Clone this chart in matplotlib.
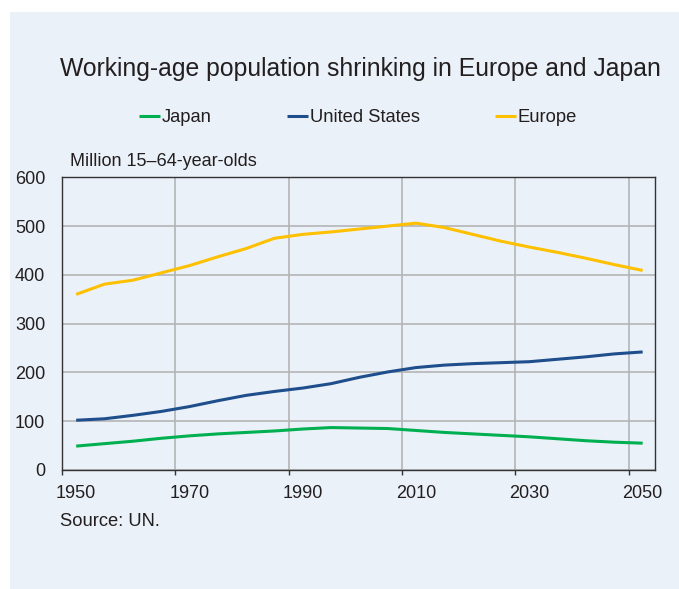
import matplotlib
matplotlib.use("Agg")
from matplotlib import pyplot as plt
from matplotlib.patches import Rectangle
from matplotlib.ticker import FixedLocator, NullFormatter

years = list(range(1950, 2051, 5))
japan = [49, 54, 59, 65, 70, 74, 77, 80, 84, 87, 86, 85, 81, 77, 74, 71, 68, 64, 60, 57, 55]
united_states = [102, 105, 112, 120, 130, 142, 153, 161, 168, 177, 190, 201, 210, 215, 218,
                 220, 222, 227, 232, 238, 242]
europe = [360, 381, 389, 404, 419, 437, 454, 475, 483, 488, 494, 500, 506, 497, 483, 469,
          457, 446, 434, 421, 409]
tick_years = [1950, 1970, 1990, 2010, 2030, 2050]
y_ticks = [0, 100, 200, 300, 400, 500, 600]

BG = "#EAF1F8"
TEXT = "#231F20"

plt.rcParams["font.family"] = ["Liberation Sans", "DejaVu Sans"]

W, H = 679, 589
fig = plt.figure(figsize=(W / 100, H / 100), dpi=100)
fig.patch.set_facecolor("white")
fig.patches.append(Rectangle((10 / W, 0), 1 - 10 / W, 1 - 12 / H, transform=fig.transFigure,
                             facecolor=BG, edgecolor="none", zorder=-10))

ax = fig.add_axes([62 / W, (H - 470) / H, (655 - 62) / W, (470 - 177.3) / H])
ax.set_facecolor(BG)

ax.plot(years, japan, color="#00B050", lw=2.2, label="Japan", solid_capstyle="butt")
ax.plot(years, united_states, color="#1F4E8C", lw=2.2, label="United States", solid_capstyle="butt")
ax.plot(years, europe, color="#FFC000", lw=2.2, label="Europe", solid_capstyle="butt")

# gridlines sit between label positions
ax.set_xlim(1947.5, 1947.5 + (655 - 62) / 5.665)
ax.set_ylim(0, 600)
ax.xaxis.set_major_locator(FixedLocator([y - 2.5 for y in tick_years]))
ax.xaxis.set_major_formatter(NullFormatter())
ax.set_xticks(tick_years, labels=[str(y) for y in tick_years], minor=True)
ax.tick_params(axis="x", which="major", length=3.6, width=1, color="#333333", direction="out")
ax.tick_params(axis="x", which="minor", length=0, pad=11, labelsize=13, labelcolor=TEXT)
ax.set_yticks(y_ticks)
ax.tick_params(axis="y", length=0, pad=12, labelsize=13, labelcolor=TEXT)

ax.grid(True, which="major", color="#B4B4B4", lw=1.2)
ax.set_axisbelow(True)
for s in ax.spines.values():
    s.set_color("#333333")
    s.set_linewidth(1)

fig.text(360 / W, (H - 69) / H, "Working-age population shrinking in Europe and Japan",
         ha="center", va="center", fontsize=17.8, color=TEXT)
fig.text(70 / W, (H - 162) / H, "Million 15\u201364-year-olds", ha="left", va="center",
         fontsize=13, color=TEXT)
fig.text(60 / W, (H - 521) / H, "Source: UN.", ha="left", va="center", fontsize=13.2, color=TEXT)

fig.legend(loc="center", bbox_to_anchor=(358 / W, (H - 118) / H), ncol=3, frameon=False,
           fontsize=13.2, handlelength=1.15, handletextpad=0.1, columnspacing=4.1,
           labelcolor=TEXT)

fig.savefig("out.png", dpi=100, facecolor=fig.get_facecolor())
